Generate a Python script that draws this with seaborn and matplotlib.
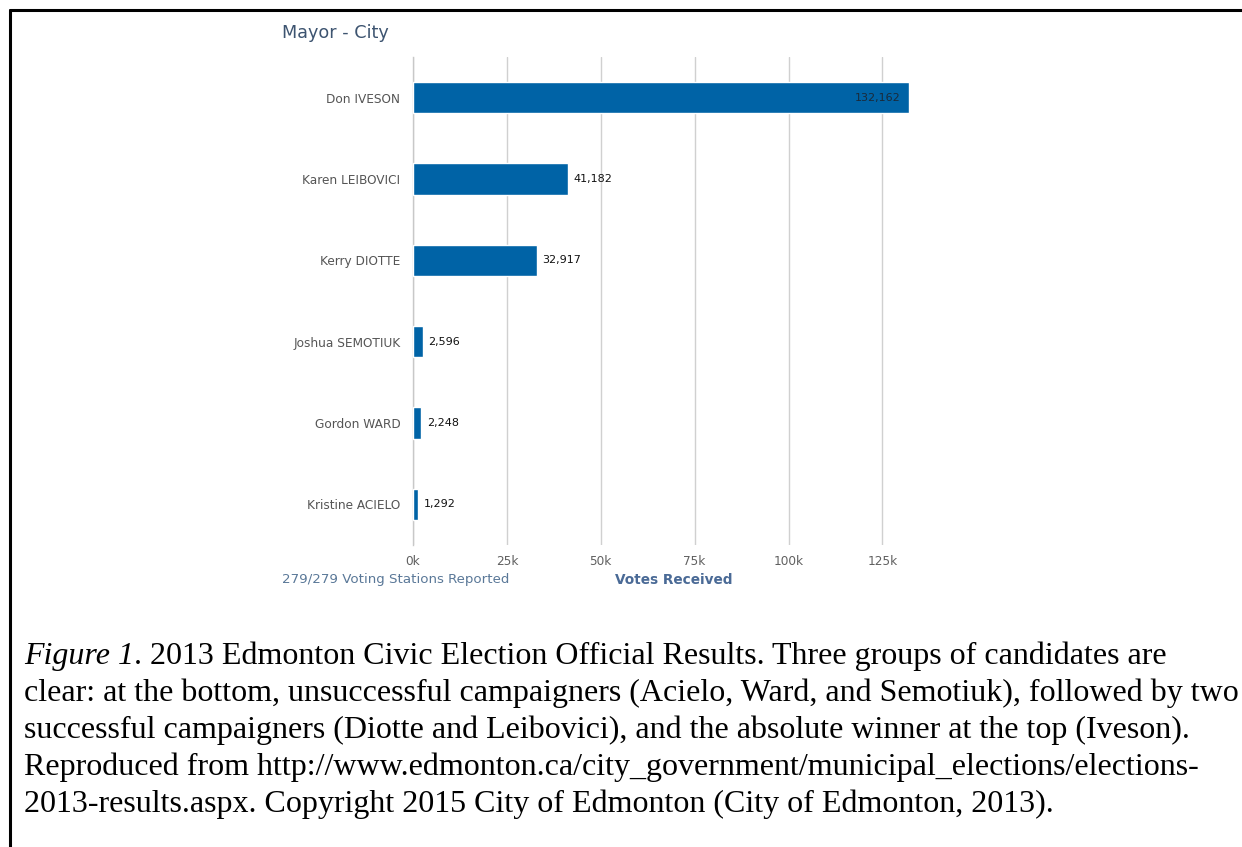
import matplotlib
matplotlib.use("Agg")
import matplotlib.pyplot as plt
import seaborn as sns
import pandas as pd
from matplotlib.lines import Line2D

candidates = ["Don IVESON", "Karen LEIBOVICI", "Kerry DIOTTE", "Joshua SEMOTIUK", "Gordon WARD", "Kristine ACIELO"]
votes = [132162, 41182, 32917, 2596, 2248, 1292]
tick_values = [0, 25000, 50000, 75000, 100000, 125000]
tick_labels = ["0k", "25k", "50k", "75k", "100k", "125k"]

title = "Mayor - City"
footer = "279/279 Voting Stations Reported"
xlabel = "Votes Received"
caption_lines = [
    ("Figure 1", ". 2013 Edmonton Civic Election Official Results. Three groups of candidates are"),
    ("", "clear: at the bottom, unsuccessful campaigners (Acielo, Ward, and Semotiuk), followed by two"),
    ("", "successful campaigners (Diotte and Leibovici), and the absolute winner at the top (Iveson)."),
    ("", "Reproduced from http://www.edmonton.ca/city_government/municipal_elections/elections-"),
    ("", "2013-results.aspx. Copyright 2015 City of Edmonton (City of Edmonton, 2013)."),
]

sns.set_theme(style="white")
plt.rcParams['font.family'] = ['DejaVu Sans']

W, H = 1242, 847
fig = plt.figure(figsize=(W / 100, H / 100), dpi=100)

ax_l, ax_r, ax_t, ax_b = 413, 935, 57, 545
ax = fig.add_axes([ax_l / W, 1 - ax_b / H, (ax_r - ax_l) / W, (ax_b - ax_t) / H])

df = pd.DataFrame({"candidate": candidates, "votes": votes})
sns.barplot(data=df, x="votes", y="candidate", orient="h", color="#0063a6",
            saturation=1, width=0.385, ax=ax, zorder=3)

ax.set_xlim(0, 139000)
ax.set_ylim(len(candidates) - 0.5, -0.5)
ax.set_xticks(tick_values)
ax.set_xticklabels(tick_labels, fontsize=8.7, color="#606060")
ax.tick_params(axis="y", labelsize=8.7, labelcolor="#555555", length=0, pad=9)
ax.tick_params(axis="x", length=0, pad=7)
ax.xaxis.grid(True, color="#d0d0d0", linewidth=1, zorder=0)
ax.yaxis.grid(False)
for s in ["top", "right", "bottom"]:
    ax.spines[s].set_visible(False)
ax.spines["left"].set_color("#c8c8c8")
ax.spines["left"].set_linewidth(1)
ax.set_xlabel("")
ax.set_ylabel("")

for i, v in enumerate(votes):
    txt = f"{v:,}"
    if v > 100000:
        ax.annotate(txt, (v, i), xytext=(-6, 0), textcoords="offset points",
                    ha="right", va="center", fontsize=8, color="#1a2a3a", zorder=4)
    else:
        ax.annotate(txt, (v, i), xytext=(4, 0), textcoords="offset points",
                    ha="left", va="center", fontsize=8, color="#111111", zorder=4)

fig.text(282 / W, 1 - 33 / H, title, fontsize=12.7, color="#3d5470", va="center", ha="left")
fig.text(282 / W, 1 - 580 / H, footer, fontsize=9.6, color="#5a7898", va="center", ha="left")
fig.text(((ax_l + ax_r) / 2) / W, 1 - 580 / H, xlabel, fontsize=9.8, color="#4a6a96",
         fontweight="bold", va="center", ha="center")

# caption
y0 = 656
cap_fs = 23
for k, (it, rest) in enumerate(caption_lines):
    y = 1 - (y0 + 37 * k) / H
    if it:
        t = fig.text(24 / W, y, it, fontsize=cap_fs, family="Liberation Serif", style="italic",
                     va="center", ha="left", color="black")
        fig.canvas.draw()
        bb = t.get_window_extent()
        fig.text(bb.x1 / W, y, rest, fontsize=cap_fs, family="Liberation Serif",
                 va="center", ha="left", color="black")
    else:
        fig.text(24 / W, y, rest, fontsize=cap_fs, family="Liberation Serif",
                 va="center", ha="left", color="black")

# frame lines (top and left)
fig.add_artist(Line2D([10 / W, 1], [1 - 10 / H, 1 - 10 / H], color="black", linewidth=2.2,
                      transform=fig.transFigure))
fig.add_artist(Line2D([10 / W, 10 / W], [0, 1 - 10 / H], color="black", linewidth=2.2,
                      transform=fig.transFigure))

fig.savefig("out.png", dpi=100)
